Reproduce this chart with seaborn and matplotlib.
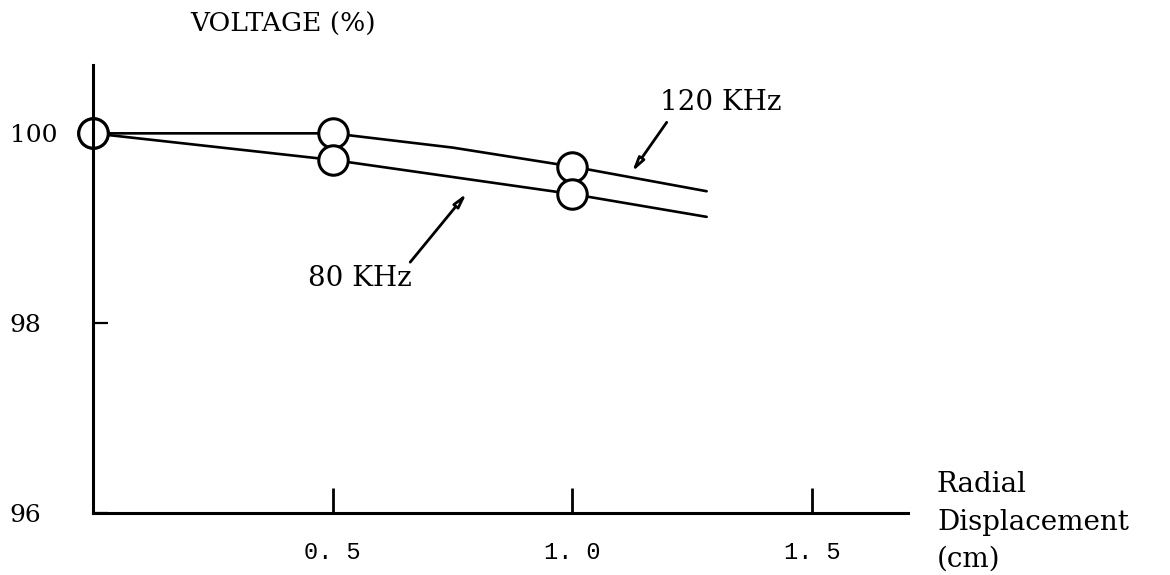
import pandas as pd
import matplotlib
matplotlib.use("Agg")
import matplotlib.pyplot as plt
import seaborn as sns

# measured points (circles)
disp = [0.0, 0.5, 1.0]
v120 = [100.0, 100.0, 99.65]
v80 = [100.0, 99.72, 99.36]

# traced curves (lines run past the last measured point)
curve_x120 = [0.0, 0.5, 0.75, 1.0, 1.28]
curve_y120 = [100.0, 100.0, 99.85, 99.65, 99.39]
curve_x80 = [0.0, 0.5, 1.0, 1.28]
curve_y80 = [100.0, 99.72, 99.36, 99.12]

xticks = [0.5, 1.0, 1.5]
xtick_labels = ["0. 5", "1. 0", "1. 5"]
yticks = [96, 98, 100]

sns.set_style("white")
plt.rcParams['font.family'] = ['DejaVu Serif']
plt.rcParams['text.color'] = 'black'

fig = plt.figure(figsize=(11.7, 5.75), dpi=100)
ax = fig.add_axes([93 / 1170, 1 - 513 / 575, 815 / 1170, 448 / 575])

lines = pd.concat([
    pd.DataFrame({'x': curve_x120, 'y': curve_y120, 'f': '120'}),
    pd.DataFrame({'x': curve_x80, 'y': curve_y80, 'f': '80'}),
])
sns.lineplot(data=lines, x='x', y='y', units='f', estimator=None, sort=False,
             color='black', lw=1.9, ax=ax, legend=False, zorder=1.5)

pts = pd.DataFrame({'x': disp + disp, 'y': v120 + v80})
sns.scatterplot(data=pts, x='x', y='y', s=450, facecolor='white', edgecolor='black',
                linewidth=2.2, ax=ax, legend=False, zorder=2, clip_on=False)

ax.set_xlim(0, 1.70)
ax.set_ylim(96, 100.72)
sns.despine(ax=ax)
for s in ['left', 'bottom']:
    ax.spines[s].set_linewidth(2.2)
    ax.spines[s].set_color('black')
    ax.spines[s].set_zorder(2.5)

ax.set_xticks(xticks)
ax.set_xticklabels(xtick_labels, fontsize=17, family='Liberation Mono', color='black')
ax.tick_params(axis='x', bottom=True, direction='in', length=18, width=2,
               color='black', pad=20)
ax.set_yticks(yticks)
ax.set_yticklabels([str(t) for t in yticks], fontsize=18, ha='left', color='black')
ax.tick_params(axis='y', left=True, direction='in', length=11, width=1.6,
               color='black', pad=60)
ax.set_xlabel('')
ax.set_ylabel('')

# annotations
arrow = dict(arrowstyle='-|>,head_length=0.8,head_width=0.2',
             lw=2, color='black', fc='white')
ax.text(1.309, 100.33, '120 KHz', fontsize=20, ha='center', va='center')
ax.annotate('', xy=(1.121, 99.57), xytext=(1.200, 100.14), arrowprops=arrow)
ax.text(0.557, 98.47, '80 KHz', fontsize=20, ha='center', va='center')
ax.annotate('', xy=(0.783, 99.39), xytext=(0.658, 98.62), arrowprops=arrow)

fig.text(190 / 1170, 1 - 24 / 575, 'VOLTAGE (%)', fontsize=19, ha='left', va='center')
fig.text(937 / 1170, 1 - 522 / 575, 'Radial\nDisplacement\n(cm)', fontsize=20,
         ha='left', va='center', linespacing=1.5)

fig.savefig('out.png', dpi=100)
